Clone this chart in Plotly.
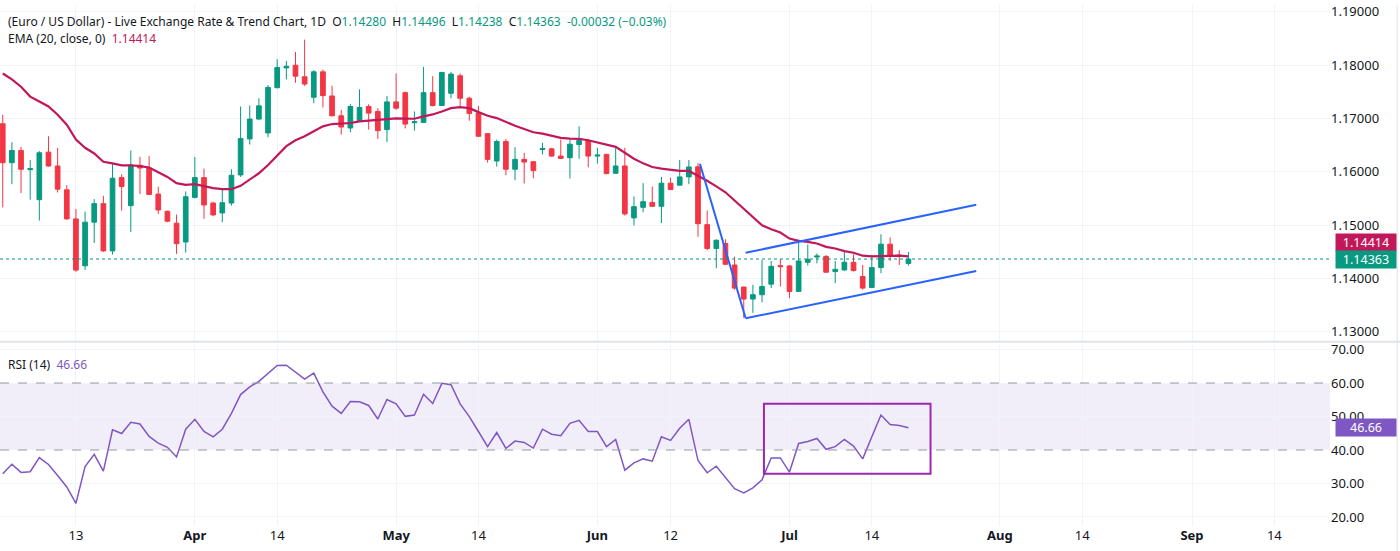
import pandas as pd
import plotly.graph_objects as go
from plotly.subplots import make_subplots

# daily bars, first one is Mon 3 Mar, weekdays only
dates = pd.bdate_range("2025-03-03", periods=100)

opens = [1.16902, 1.16171, 1.16400, 1.16040, 1.15476, 1.16369, 1.16109, 1.15662, 1.15116, 1.14236,
         1.15054, 1.15402, 1.14515, 1.15891, 1.15364, 1.16121, 1.16071, 1.15581, 1.15259, 1.15036,
         1.14682, 1.15519, 1.15891, 1.15414, 1.15228, 1.15414, 1.15941, 1.16617, 1.16989, 1.16729,
         1.17578, 1.17950, 1.18000, 1.17783, 1.17398, 1.17876, 1.17423, 1.17051, 1.16822, 1.16958,
         1.17225, 1.17132, 1.16791, 1.17312, 1.17485, 1.16921, 1.16927, 1.17485, 1.17243, 1.17473,
         1.17802, 1.17380, 1.17101, 1.16716, 1.16202, 1.16567, 1.16047, 1.16233, 1.16189, 1.16419,
         1.16431, 1.16295, 1.16264, 1.16512, 1.16586, 1.16295, 1.16326, 1.15972, 1.16109, 1.15135,
         1.15333, 1.15426, 1.15352, 1.15786, 1.15749, 1.15904, 1.16093, 1.15008, 1.14561, 1.14654,
         1.14251, 1.13836, 1.13612, 1.13693, 1.13891, 1.14239, 1.14233, 1.13755, 1.14301, 1.14400,
         1.14412, 1.14127, 1.14158, 1.14301, 1.14034, 1.13830, 1.14202, 1.14642, 1.14437, 1.14280]
highs = [1.17070, 1.16555, 1.16468, 1.16220, 1.16388, 1.16667, 1.16450, 1.15749, 1.15302, 1.15253,
         1.15488, 1.15550, 1.16158, 1.15953, 1.16400, 1.16282, 1.16295, 1.15718, 1.15271, 1.15197,
         1.15631, 1.16276, 1.16059, 1.15439, 1.15693, 1.16047, 1.17225, 1.17243, 1.17380, 1.17628,
         1.18112, 1.18081, 1.18248, 1.18480, 1.17907, 1.17919, 1.17616, 1.17163, 1.17268, 1.17547,
         1.17268, 1.17194, 1.17423, 1.17845, 1.17504, 1.17132, 1.17969, 1.17795, 1.17876, 1.17876,
         1.17845, 1.17411, 1.17237, 1.16729, 1.16605, 1.16617, 1.16462, 1.16357, 1.16202, 1.16543,
         1.16450, 1.16605, 1.16605, 1.16853, 1.16617, 1.16450, 1.16338, 1.16462, 1.16450, 1.15538,
         1.15786, 1.15724, 1.15904, 1.15891, 1.16220, 1.16220, 1.16161, 1.15274, 1.14729, 1.14735,
         1.14406, 1.13848, 1.13879, 1.14344, 1.14326, 1.14363, 1.14251, 1.14729, 1.14636, 1.14468,
         1.14437, 1.14326, 1.14499, 1.14450, 1.14251, 1.14437, 1.14828, 1.14766, 1.14530, 1.14496]
lows = [1.15333, 1.15767, 1.15600, 1.15476, 1.15085, 1.16097, 1.15612, 1.15104, 1.14124, 1.14155,
        1.14664, 1.14496, 1.14447, 1.15271, 1.14868, 1.15581, 1.15563, 1.15209, 1.15054, 1.14459,
        1.14484, 1.15500, 1.15116, 1.15166, 1.15054, 1.15364, 1.15904, 1.16512, 1.16977, 1.16648,
        1.17566, 1.17733, 1.17671, 1.17609, 1.17287, 1.17206, 1.17039, 1.16698, 1.16741, 1.16946,
        1.16791, 1.16617, 1.16555, 1.17163, 1.16815, 1.16770, 1.16915, 1.17225, 1.17237, 1.17380,
        1.17225, 1.16958, 1.16660, 1.16171, 1.16097, 1.15935, 1.15842, 1.15780, 1.15879, 1.16326,
        1.16282, 1.16245, 1.15873, 1.16245, 1.16084, 1.16152, 1.15953, 1.15966, 1.15178, 1.14992,
        1.15240, 1.15346, 1.15036, 1.15660, 1.15736, 1.15767, 1.14778, 1.14530, 1.14189, 1.14251,
        1.13786, 1.13259, 1.13352, 1.13550, 1.13817, 1.13848, 1.13631, 1.13743, 1.14239, 1.14282,
        1.14109, 1.13910, 1.14140, 1.14127, 1.13786, 1.13817, 1.14096, 1.14326, 1.14251, 1.14238]
closes = [1.16171, 1.16400, 1.16047, 1.16059, 1.16357, 1.16109, 1.15674, 1.15116, 1.14155, 1.15054,
          1.15402, 1.14515, 1.15879, 1.15724, 1.16127, 1.16071, 1.15575, 1.15284, 1.15073, 1.14651,
          1.15532, 1.15891, 1.15377, 1.15191, 1.15420, 1.15935, 1.16623, 1.16989, 1.17237, 1.17584,
          1.17957, 1.17981, 1.17795, 1.17647, 1.17876, 1.17429, 1.17051, 1.16840, 1.17225, 1.17206,
          1.17101, 1.16772, 1.17312, 1.17194, 1.16896, 1.16940, 1.17485, 1.17243, 1.17864, 1.17833,
          1.17380, 1.17095, 1.16667, 1.16233, 1.16567, 1.16047, 1.16233, 1.16183, 1.16022, 1.16437,
          1.16295, 1.16251, 1.16518, 1.16586, 1.16295, 1.16313, 1.15966, 1.16109, 1.15209, 1.15346,
          1.15439, 1.15352, 1.15786, 1.15668, 1.15904, 1.16090, 1.15026, 1.14561, 1.14716, 1.14264,
          1.13817, 1.13612, 1.13693, 1.13848, 1.14226, 1.14220, 1.13755, 1.14326, 1.14357, 1.14419,
          1.14115, 1.14170, 1.14301, 1.14146, 1.13817, 1.14202, 1.14642, 1.14425, 1.14419, 1.14363]
ema20 = [1.17845, 1.17733, 1.17597, 1.17411, 1.17318, 1.17225, 1.17070, 1.16884, 1.16605, 1.16450,
         1.16344, 1.16189, 1.16158, 1.16121, 1.16121, 1.16109, 1.16078, 1.15984, 1.15904, 1.15786,
         1.15755, 1.15767, 1.15724, 1.15693, 1.15674, 1.15674, 1.15736, 1.15848, 1.15972, 1.16127,
         1.16307, 1.16481, 1.16592, 1.16667, 1.16760, 1.16853, 1.16896, 1.16902, 1.16915, 1.16946,
         1.16964, 1.16977, 1.16989, 1.17002, 1.16995, 1.16995, 1.17039, 1.17076, 1.17132, 1.17194,
         1.17212, 1.17194, 1.17120, 1.17051, 1.17008, 1.16933, 1.16865, 1.16803, 1.16741, 1.16716,
         1.16679, 1.16636, 1.16623, 1.16617, 1.16592, 1.16555, 1.16512, 1.16468, 1.16357, 1.16245,
         1.16158, 1.16090, 1.16059, 1.16034, 1.16016, 1.16016, 1.15926, 1.15833, 1.15727, 1.15616,
         1.15460, 1.15305, 1.15150, 1.14995, 1.14921, 1.14859, 1.14747, 1.14704, 1.14685, 1.14654,
         1.14592, 1.14561, 1.14512, 1.14481, 1.14425, 1.14412, 1.14419, 1.14425, 1.14425, 1.14414]
rsi14 = [32.90, 35.76, 33.30, 33.50, 37.73, 35.67, 32.41, 28.97, 24.04, 35.07,
         38.72, 33.69, 46.01, 44.93, 48.28, 47.78, 44.04, 42.07, 40.79, 37.93,
         46.21, 49.16, 45.52, 43.94, 46.21, 50.94, 56.55, 58.82, 60.49, 62.96,
         65.22, 65.32, 63.15, 61.18, 62.96, 57.34, 53.10, 50.94, 54.48, 54.38,
         53.30, 49.26, 55.07, 53.79, 50.05, 50.44, 56.65, 53.89, 59.90, 59.51,
         53.79, 49.95, 45.52, 40.99, 45.22, 40.49, 42.66, 42.27, 40.59, 46.21,
         44.73, 44.24, 47.98, 48.87, 45.52, 45.52, 40.99, 43.15, 33.99, 36.16,
         37.34, 36.65, 43.94, 42.86, 46.50, 49.16, 36.85, 33.20, 35.17, 31.92,
         28.47, 27.19, 28.67, 31.13, 37.64, 37.64, 33.40, 41.97, 42.56, 43.45,
         40.20, 40.99, 43.15, 41.18, 37.34, 43.94, 50.44, 47.59, 47.29, 46.66]

# drawn trend lines (time, price)
drop_line = [("2025-06-17 05:00", 1.16150), ("2025-06-24 05:00", 1.13250)]
low_line = [("2025-06-24 05:00", 1.13250), ("2025-07-29 10:00", 1.14140)]
high_line = [("2025-06-24 05:00", 1.14480), ("2025-07-29 10:00", 1.15380)]
rsi_box = [("2025-06-26 05:00", 32.9), ("2025-07-22 10:00", 53.8)]

tick_dates = ["2025-03-13", "2025-04-01", "2025-04-14", "2025-05-01", "2025-05-14", "2025-06-02",
              "2025-06-12", "2025-07-01", "2025-07-14", "2025-08-01", "2025-08-14", "2025-09-01",
              "2025-09-12"]
tick_text = ["13", "<b>Apr</b>", "14", "<b>May</b>", "14", "<b>Jun</b>", "12", "<b>Jul</b>", "14",
             "<b>Aug</b>", "14", "<b>Sep</b>", "14"]

UP = "#089981"
DOWN = "#f23645"
EMA_C = "#c2185b"
RSI_C = "#7e57c2"
BLUE = "#2962ff"
TXT = "#131722"
GRID = "#f0f3fa"
FONT = "Noto Sans"

fig = make_subplots(rows=2, cols=1, shared_xaxes=True, vertical_spacing=0.0)

fig.add_trace(go.Candlestick(x=dates, open=opens, high=highs, low=lows, close=closes,
                             increasing=dict(line=dict(color=UP, width=1), fillcolor=UP),
                             decreasing=dict(line=dict(color=DOWN, width=1), fillcolor=DOWN),
                             whiskerwidth=0, hoverinfo="skip"), row=1, col=1)
fig.add_trace(go.Scatter(x=dates, y=ema20, mode="lines", line=dict(color=EMA_C, width=2.2)),
              row=1, col=1)

for seg in (drop_line, low_line, high_line):
    fig.add_trace(go.Scatter(x=[p[0] for p in seg], y=[p[1] for p in seg], mode="lines",
                             line=dict(color=BLUE, width=2)), row=1, col=1)

# last close dotted line
fig.add_shape(type="line", xref="x domain", yref="y", x0=0, x1=1, y0=closes[-1], y1=closes[-1],
              line=dict(color=UP, width=1, dash="dot"))

# RSI band 40-60
fig.add_shape(type="rect", xref="x2 domain", yref="y2", x0=0, x1=1, y0=40, y1=60,
              fillcolor="rgba(126,87,194,0.10)", line=dict(width=0), layer="below")
for lvl in (60, 40):
    fig.add_shape(type="line", xref="x2 domain", yref="y2", x0=0, x1=1, y0=lvl, y1=lvl,
                  line=dict(color="#9598a1", width=1, dash="dash"))

fig.add_trace(go.Scatter(x=dates, y=rsi14, mode="lines", line=dict(color=RSI_C, width=1.5)),
              row=2, col=1)

fig.add_shape(type="rect", xref="x2", yref="y2", x0=rsi_box[0][0], x1=rsi_box[1][0],
              y0=rsi_box[0][1], y1=rsi_box[1][1], line=dict(color="#9c27b0", width=2))

# pane separator and right border
fig.add_shape(type="line", xref="paper", yref="paper", x0=0, x1=1.06, y0=0.3536, y1=0.3536,
              line=dict(color="#e0e3eb", width=2))
fig.add_shape(type="line", xref="paper", yref="paper", x0=1.0505, x1=1.0505, y0=-0.06, y1=1,
              line=dict(color="#e0e3eb", width=1))

teal = f"color:{UP}"
head1 = ("(Euro / US Dollar) - Live Exchange Rate &amp; Trend Chart, 1D\u00a0\u00a0"
         f"O<span style='{teal}'>{opens[-1]:.5f}</span>\u00a0\u00a0"
         f"H<span style='{teal}'>{highs[-1]:.5f}</span>\u00a0\u00a0"
         f"L<span style='{teal}'>{lows[-1]:.5f}</span>\u00a0\u00a0"
         f"C<span style='{teal}'>{closes[-1]:.5f}</span>\u00a0\u00a0"
         f"<span style='{teal}'>-0.00032 (\u22120.03%)</span>")
head2 = f"EMA (20, close, 0)\u00a0\u00a0<span style='color:{EMA_C}'>{ema20[-1]:.5f}</span>"
head3 = f"RSI (14)\u00a0\u00a0<span style='color:{RSI_C}'>{rsi14[-1]:.2f}</span>"

fig.add_annotation(text=head1, xref="paper", yref="paper", x=0, y=1, xanchor="left",
                   yanchor="middle", xshift=6, yshift=-16, showarrow=False,
                   font=dict(family=FONT, size=12, color=TXT))
fig.add_annotation(text=head2, xref="paper", yref="paper", x=0, y=1, xanchor="left",
                   yanchor="middle", xshift=6, yshift=-33, showarrow=False,
                   font=dict(family=FONT, size=12, color=TXT))
fig.add_annotation(text=head3, xref="x2 domain", yref="y2 domain", x=0, y=1, xanchor="left",
                   yanchor="middle", xshift=6, yshift=-20, showarrow=False,
                   font=dict(family=FONT, size=12, color=TXT))

# right axis value badges
badges = [(ema20[-1], "y", EMA_C, f"{ema20[-1]:.5f}", 14),
          (closes[-1], "y", UP, f"{closes[-1]:.5f}", 0),
          (rsi14[-1], "y2", RSI_C, f"{rsi14[-1]:.2f}", 0)]
for val, yr, col, txt, ys in badges:
    fig.add_annotation(text=txt, xref="paper", yref=yr, x=1, y=val, xanchor="left",
                       yanchor="middle", xshift=5, yshift=ys, showarrow=False,
                       bgcolor=col, borderpad=2, width=56, height=13,
                       font=dict(family=FONT, size=12.5, color="white"))

fig.update_xaxes(type="date", rangebreaks=[dict(bounds=["sat", "mon"])],
                 range=["2025-02-28 16:48", "2025-09-22 02:00"],
                 tickvals=tick_dates, ticktext=tick_text, showgrid=True, gridcolor=GRID,
                 zeroline=False, showline=False, ticks="", rangeslider_visible=False,
                 tickfont=dict(family=FONT, size=13, color=TXT))
fig.update_xaxes(showticklabels=False, row=1, col=1)

fig.update_yaxes(side="right", showgrid=True, gridcolor=GRID, zeroline=False, ticks="",
                 tickfont=dict(family=FONT, size=13, color=TXT))
fig.update_yaxes(range=[1.1281, 1.1913], tickvals=[1.13, 1.14, 1.15, 1.16, 1.17, 1.18, 1.19],
                 tickformat=".5f", row=1, col=1)
fig.update_yaxes(range=[17.3, 71.45], tickvals=[20, 30, 40, 50, 60, 70], tickformat=".2f",
                 row=2, col=1)

fig.update_layout(width=1400, height=551, margin=dict(l=0, r=70, t=0, b=25),
                  paper_bgcolor="white", plot_bgcolor="white", showlegend=False,
                  boxgap=0.27,
                  yaxis=dict(domain=[0.3536, 1.0]), yaxis2=dict(domain=[0.0, 0.348]),
                  font=dict(family=FONT, color=TXT))

# page body has a default 8px margin, drop it so the chart sits at the window corner
fig.write_html("out.html", config={"displayModeBar": False},
               post_script="document.body.style.margin='0px';")
